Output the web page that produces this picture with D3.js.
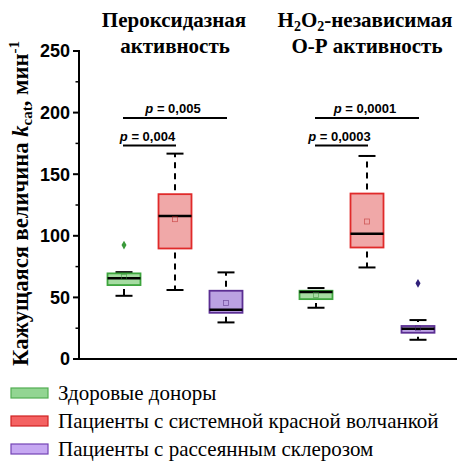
<!DOCTYPE html>
<html><head><meta charset="utf-8">
<script src="https://cdn.jsdelivr.net/npm/d3@7"></script>
<style>body{margin:0;background:#fff}svg{display:block}</style>
</head><body>
<script>
const groups = ["perox", "indep"];
const series = ["Здоровые доноры", "Пациенты с системной красной волчанкой", "Пациенты с рассеянным склерозом"];
// order: perox(green, red, purple), indep(green, red, purple)
const whiskerLow  = [51.3, 56.0, 29.7, 41.6, 74.3, 15.6];
const q1Values    = [60.0, 89.7, 37.5, 48.6, 90.5, 21.3];
const medianValues= [65.5, 116.0, 40.0, 54.3, 101.6, 24.6];
const q3Values    = [69.5, 133.8, 55.4, 55.4, 134.3, 26.8];
const whiskerHigh = [70.5, 166.7, 70.3, 57.6, 164.8, 31.6];
const meanValues  = [66.7, 113.5, 45.4, 51.9, 111.6, 25.0];
const outlierValues = [[92.5], [], [], [], [], [61.4]];
const yTicks = [0, 50, 100, 150, 200, 250];
const yMinorTicks = [25, 75, 125, 175, 225];
const comparisons = [
  {group: "perox", from: 0, to: 2, label: "0,005", level: 0},
  {group: "perox", from: 0, to: 1, label: "0,004", level: 1},
  {group: "indep", from: 0, to: 2, label: "0,0001", level: 0},
  {group: "indep", from: 0, to: 1, label: "0,0003", level: 1}
];
const boxFill = ["#a6dca2", "#f0a8a8", "#bba2e2"];
const boxStroke = ["#3da53d", "#e02a2a", "#5b2e93"];
const legendFill = ["#92d592", "#f46262", "#c6a8f2"];
const legendStroke = ["#52ad52", "#cf2222", "#7444b4"];
const outlierColor = ["#3a9a3a", "#c02020", "#30207a"];

const SERIF = '"Liberation Serif"';
const SANS = '"Liberation Sans"';

const W = 459, H = 462;
const svg = d3.select("body").append("svg").attr("width", W).attr("height", H);

const y = d3.scaleLinear().domain([0, 250]).range([359, 51]);
const xGroup = d3.scaleBand().domain(groups).range([79, 463]);
const xInner = d3.scaleBand().domain(d3.range(3)).range([0, 153]);
const offset = (xGroup.bandwidth() - 153) / 2;
const cx = (g, s) => xGroup(g) + offset + xInner(s) + xInner.bandwidth() / 2;
const boxW = 33, capW = 17;

// axes
const axisG = svg.append("g");
axisG.append("line").attr("x1", 79).attr("x2", 79).attr("y1", y(250) - 1).attr("y2", y(0) + 1)
  .attr("stroke", "#000").attr("stroke-width", 2);
axisG.append("line").attr("x1", 78).attr("x2", 457).attr("y1", y(0)).attr("y2", y(0))
  .attr("stroke", "#000").attr("stroke-width", 2);
yTicks.forEach(t => {
  axisG.append("line").attr("x1", 73).attr("x2", 79).attr("y1", y(t)).attr("y2", y(t)).attr("stroke", "#000").attr("stroke-width", 2);
  axisG.append("text").attr("x", 70).attr("y", y(t)).attr("dy", "0.36em").attr("text-anchor", "end")
    .style("font-family", SANS).style("font-weight", "bold").style("font-size", "18px")
    .text(t);
});
yMinorTicks.forEach(t => {
  axisG.append("line").attr("x1", 75.5).attr("x2", 79).attr("y1", y(t)).attr("y2", y(t)).attr("stroke", "#000").attr("stroke-width", 1.5);
});

// y label
const yl = svg.append("text").attr("transform", `translate(28,${203.5}) rotate(-90)`)
  .attr("text-anchor", "middle").style("font-family", SERIF).style("font-weight", "bold").style("font-size", "22.6px");
yl.append("tspan").text("Кажущаяся величина ");
yl.append("tspan").style("font-style", "italic").text("k");
yl.append("tspan").style("font-size", "15px").attr("dy", 4).text("cat");
yl.append("tspan").attr("dy", -4).text(", мин");
yl.append("tspan").style("font-size", "15px").attr("dy", -9).text("-1");

// titles
const titleStyle = sel => sel.attr("text-anchor", "middle").style("font-family", SERIF).style("font-weight", "bold").style("font-size", "21px");
svg.append("text").attr("x", cx("perox", 1) - 1).attr("y", 27).call(titleStyle).text("Пероксидазная");
svg.append("text").attr("x", cx("perox", 1)).attr("y", 53).call(titleStyle).text("активность");
const t2 = svg.append("text").attr("x", cx("indep", 1) - 2).attr("y", 27).call(titleStyle);
t2.append("tspan").text("H");
t2.append("tspan").style("font-size", "14px").attr("dy", 4).text("2");
t2.append("tspan").attr("dy", -4).text("O");
t2.append("tspan").style("font-size", "14px").attr("dy", 4).text("2");
t2.append("tspan").attr("dy", -4).text("-независимая");
svg.append("text").attr("x", cx("indep", 1)).attr("y", 53).call(titleStyle).text("О-Р активность");

// boxes
const plot = svg.append("g");
groups.forEach((g, gi) => {
  series.forEach((s, si) => {
    const i = gi * 3 + si;
    const x = cx(g, si);
    const wl = whiskerLow[i], q1 = q1Values[i], md = medianValues[i], q3 = q3Values[i], wh = whiskerHigh[i];
    plot.append("line").attr("x1", x).attr("x2", x).attr("y1", y(q3)).attr("y2", y(wh))
      .attr("stroke", "#000").attr("stroke-width", 2).attr("stroke-dasharray", "6,5").attr("stroke-dashoffset", -4);
    plot.append("line").attr("x1", x).attr("x2", x).attr("y1", y(q1)).attr("y2", y(wl))
      .attr("stroke", "#000").attr("stroke-width", 2).attr("stroke-dasharray", "6,5").attr("stroke-dashoffset", -4);
    [wl, wh].forEach(v => plot.append("line").attr("x1", x - capW / 2).attr("x2", x + capW / 2)
      .attr("y1", y(v)).attr("y2", y(v)).attr("stroke", "#000").attr("stroke-width", 2));
    plot.append("rect").attr("x", x - boxW / 2).attr("y", y(q3)).attr("width", boxW).attr("height", y(q1) - y(q3))
      .attr("fill", boxFill[si]).attr("stroke", boxStroke[si]).attr("stroke-width", 1.8);
    plot.append("line").attr("x1", x - boxW / 2).attr("x2", x + boxW / 2).attr("y1", y(md)).attr("y2", y(md))
      .attr("stroke", "#000").attr("stroke-width", 2.5);
    plot.append("rect").attr("x", x - 2.5).attr("y", y(meanValues[i]) - 2.5).attr("width", 5).attr("height", 5)
      .attr("fill", "none").attr("stroke", d3.color(boxStroke[si]).darker(0.5)).attr("stroke-opacity", 0.6).attr("stroke-width", 0.8);
    outlierValues[i].forEach(v => {
      plot.append("path").attr("d", d3.symbol(d3.symbolDiamond, 22)()).attr("transform", `translate(${x},${y(v)})`)
        .attr("fill", outlierColor[si]);
    });
  });
});

// comparisons
comparisons.forEach(c => {
  const x1 = cx(c.group, c.from), x2 = cx(c.group, c.to);
  const ly = c.level === 0 ? 118 : 145.5;
  plot.append("line").attr("x1", x1 - 1).attr("x2", x2 + 1).attr("y1", ly).attr("y2", ly).attr("stroke", "#000").attr("stroke-width", 1.8);
  const tx = plot.append("text").attr("x", (x1 + x2) / 2 - 2).attr("y", ly - 5).attr("text-anchor", "middle")
    .style("font-family", SANS).style("font-weight", "bold").style("font-size", "13px");
  tx.append("tspan").style("font-style", "italic").text("p");
  tx.append("tspan").text(" = " + c.label);
});

// legend
const leg = svg.append("g");
series.forEach((s, si) => {
  const ly = 393 + si * 28;
  leg.append("rect").attr("x", 11).attr("y", ly - 5).attr("width", 37).attr("height", 10)
    .attr("fill", legendFill[si]).attr("stroke", legendStroke[si]).attr("stroke-width", 1.2);
  leg.append("text").attr("x", 58).attr("y", ly + 6.5).style("font-family", SERIF).style("font-size", "21px").text(s);
});
</script>
</body></html>
